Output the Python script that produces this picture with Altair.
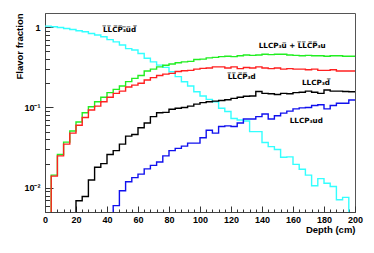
import altair as alt
import pandas as pd

OL = "\u0305"  # combining overline

# bin left edges (4 cm bins from 0 to 200)
edges = [4 * i for i in range(50)]

cyan_ubar_dbar = [1.03, 1.01, 0.99, 0.96, 0.935, 0.90, 0.875, 0.835, 0.80, 0.76,
                  0.70, 0.656, 0.60, 0.54, 0.52, 0.47, 0.41, 0.37, 0.337, 0.316,
                  0.279, 0.242, 0.209, 0.185, 0.157, 0.139, 0.126, 0.118, 0.098, 0.089,
                  0.073, 0.070, 0.068, 0.050, 0.050, 0.0366, 0.0326, 0.030, 0.024, 0.0243,
                  0.0196, 0.017, 0.0144, 0.0106, 0.013, 0.0114, 0.0104, 0.0071, 0.0076, 0.003]

green_u = [0.0001, 0.0144, 0.026, 0.037, 0.051, 0.066, 0.086, 0.102, 0.118, 0.134,
           0.153, 0.168, 0.185, 0.21, 0.23, 0.25, 0.285, 0.30, 0.32, 0.335,
           0.347, 0.36, 0.37, 0.375, 0.395, 0.40, 0.415, 0.42, 0.43, 0.435,
           0.43, 0.44, 0.45, 0.445, 0.45, 0.46, 0.455, 0.46, 0.46, 0.45,
           0.445, 0.44, 0.445, 0.44, 0.44, 0.435, 0.44, 0.44, 0.435, 0.435]

red_d = [0.0001, 0.014, 0.025, 0.035, 0.048, 0.060, 0.075, 0.093, 0.104, 0.118,
         0.134, 0.150, 0.160, 0.18, 0.19, 0.20, 0.22, 0.235, 0.25, 0.26,
         0.266, 0.28, 0.287, 0.29, 0.30, 0.307, 0.31, 0.32, 0.32, 0.31,
         0.32, 0.305, 0.315, 0.31, 0.32, 0.31, 0.305, 0.31, 0.30, 0.305,
         0.30, 0.30, 0.295, 0.30, 0.29, 0.29, 0.295, 0.285, 0.285, 0.285]

black_dbar = [0.0001, 0.0001, 0.0001, 0.0001, 0.0001, 0.0069, 0.0078, 0.0125, 0.018, 0.020,
              0.026, 0.029, 0.035, 0.044, 0.046, 0.056, 0.064, 0.077, 0.086, 0.087,
              0.095, 0.098, 0.100, 0.104, 0.110, 0.115, 0.118, 0.120, 0.122, 0.125,
              0.130, 0.134, 0.138, 0.139, 0.158, 0.150, 0.148, 0.145, 0.150, 0.148,
              0.153, 0.155, 0.160, 0.155, 0.150, 0.165, 0.160, 0.160, 0.158, 0.157]

blue_ud = [0.0001] * 11 + [0.006, 0.0092, 0.0119, 0.0134, 0.0148, 0.0172, 0.019, 0.021,
           0.025, 0.029, 0.031, 0.033, 0.036, 0.036, 0.042, 0.052, 0.048, 0.058,
           0.059, 0.058, 0.064, 0.072, 0.072, 0.077, 0.083, 0.072, 0.079, 0.085,
           0.090, 0.096, 0.099, 0.100, 0.106, 0.108, 0.096, 0.106, 0.113, 0.113, 0.124]

series_names = ["ubar_dbar", "u", "d", "dbar", "ud"]
series_values = [cyan_ubar_dbar, green_u, red_d, black_dbar, blue_ud]
series_colors = ["#33ffff", "#22ee22", "#ff2020", "#000000", "#1010ee"]

label_text = [
    "".join(c + OL for c in "LLCP\u2083ud"),
    "LLCP\u2083u" + OL + " + " + "".join(c + OL for c in "LLCP") + "\u2083u",
    "".join(c + OL for c in "LLCP") + "\u2083d",
    "LLCP\u2083d" + OL,
    "LLCP\u2083ud",
]
label_x = [37.4, 137.9, 117.9, 165.8, 157.9]
label_y = [0.92, 0.58, 0.237, 0.20, 0.0685]

x_major = list(range(0, 201, 20))
x_minor = [v for v in range(0, 201, 4) if v % 20 != 0]
y_major = [0.01, 0.1, 1.0]
y_minor = [0.006, 0.007, 0.008, 0.009,
           0.02, 0.03, 0.04, 0.05, 0.06, 0.07, 0.08, 0.09,
           0.2, 0.3, 0.4, 0.5, 0.6, 0.7, 0.8, 0.9]

rows = []
for name, vals in zip(series_names, series_values):
    for e, v in zip(edges, vals):
        rows.append({"s": name, "x": e, "v": v})
    rows.append({"s": name, "x": 200, "v": vals[-1]})
df = pd.DataFrame(rows)

lab = pd.DataFrame({"x": label_x, "v": label_y, "t": label_text})

FONT = "Liberation Sans"
LFONT = "DejaVu Sans"
xscale = alt.Scale(domain=[0, 200], nice=False, zero=False)
yscale = alt.Scale(type="log", domain=[0.005, 1.5], nice=False)

lines = alt.Chart(df).mark_line(interpolate="step-after", strokeWidth=1.4, clip=True).encode(
    x=alt.X("x:Q", scale=xscale, axis=alt.Axis(
        values=x_major, tickSize=0, labelPadding=3, labelFont=FONT, labelFontSize=9,
        labelFontWeight="bold", labelColor="black", labelFlush=False, grid=False,
        domainColor="#444", title="Depth (cm)", titleFont=FONT, titleFontSize=9.5,
        titleFontWeight="bold", titleAnchor="end", titleAlign="right",
        titleBaseline="middle", titleX=310, titleY=17, titleColor="black")),
    y=alt.Y("v:Q", scale=yscale, axis=alt.Axis(
        values=y_major, tickSize=0, labelPadding=5, labelFont=FONT, labelFontSize=9,
        labelFontWeight="bold", labelColor="black", labelFlush=False, grid=False,
        labelExpr="datum.value >= 0.5 ? '1' : datum.value >= 0.05 ? '10\u207b\u00b9' : '10\u207b\u00b2'",
        domainColor="#444", title="Flavor fraction", titleFont=FONT, titleFontSize=9.5,
        titleFontWeight="bold", titleAngle=-90, titleAlign="right", titleBaseline="bottom",
        titleX=-21, titleY=0, titleColor="black")),
    color=alt.Color("s:N", scale=alt.Scale(domain=series_names, range=series_colors), legend=None),
)


def tick_layer(xvals, xsize, yvals, ysize):
    return alt.Chart(df).mark_line(opacity=0).encode(
        x=alt.X("x:Q", scale=xscale, axis=alt.Axis(
            orient="bottom", values=xvals, tickSize=xsize, offset=-xsize, labels=False,
            domain=False, grid=False, title=None, tickColor="#333")),
        y=alt.Y("v:Q", scale=yscale, axis=alt.Axis(
            orient="left", values=yvals, tickSize=ysize, offset=-ysize, labels=False,
            domain=False, grid=False, title=None, tickColor="#333")),
        detail="s:N",
    )


major = tick_layer(x_major, 6, y_major, 8)
minor = tick_layer(x_minor, 3, y_minor, 4.5)

texts = alt.Chart(lab).mark_text(align="left", baseline="middle", font=LFONT, fontSize=7.2,
                                 fontWeight="bold", color="black").encode(
    x=alt.X("x:Q", scale=xscale, axis=None),
    y=alt.Y("v:Q", scale=yscale, axis=None),
    text="t:N",
)

chart = alt.layer(lines, major, minor, texts).resolve_axis(
    x="independent", y="independent"
).properties(
    width=310, height=199,
    autosize=alt.AutoSizeParams(type="none"),
    padding={"left": 37, "top": 5, "right": 10, "bottom": 30},
    background="white",
).configure_view(stroke="#555", strokeWidth=1)

chart.save("out.html", embed_options={"renderer": "svg", "actions": False})
